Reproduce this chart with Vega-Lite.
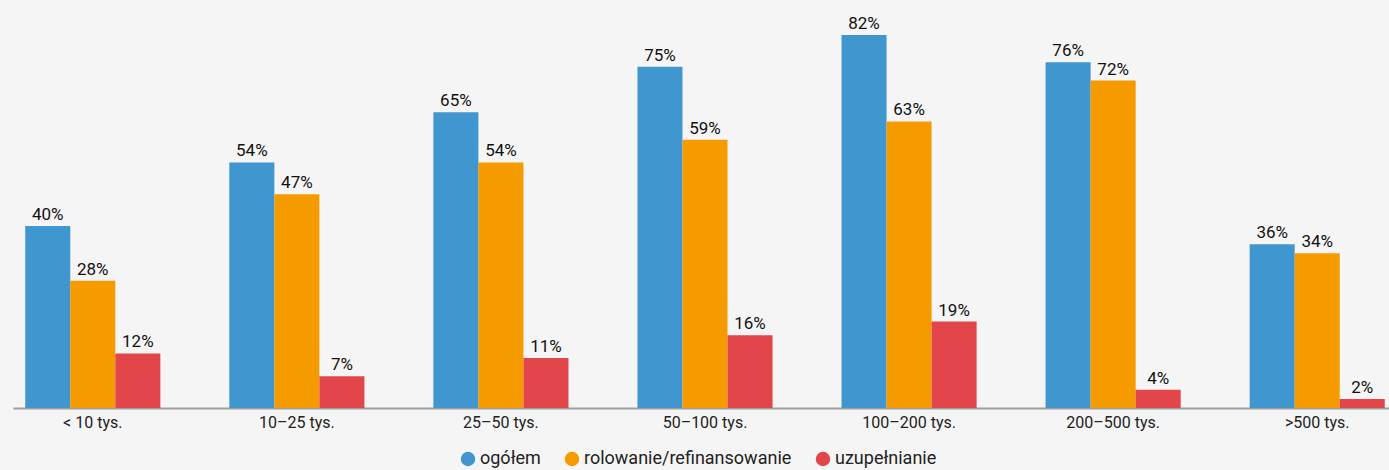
{
  "$schema": "https://vega.github.io/schema/vega-lite/v6.json",
  "autosize": "none",
  "width": 1384,
  "height": 408,
  "padding": {"left": 13, "top": 0, "right": 0, "bottom": 62},
  "background": "#f5f5f5",
  "config": {
    "view": {"stroke": null},
    "font": "Roboto",
    "axis": {"grid": false}
  },
  "data": {
    "values": [
      {"grupa": "< 10 tys.", "seria": "ogółem", "v": 40},
      {"grupa": "< 10 tys.", "seria": "rolowanie/refinansowanie", "v": 28},
      {"grupa": "< 10 tys.", "seria": "uzupełnianie", "v": 12},
      {"grupa": "10–25 tys.", "seria": "ogółem", "v": 54},
      {"grupa": "10–25 tys.", "seria": "rolowanie/refinansowanie", "v": 47},
      {"grupa": "10–25 tys.", "seria": "uzupełnianie", "v": 7},
      {"grupa": "25–50 tys.", "seria": "ogółem", "v": 65},
      {"grupa": "25–50 tys.", "seria": "rolowanie/refinansowanie", "v": 54},
      {"grupa": "25–50 tys.", "seria": "uzupełnianie", "v": 11},
      {"grupa": "50–100 tys.", "seria": "ogółem", "v": 75},
      {"grupa": "50–100 tys.", "seria": "rolowanie/refinansowanie", "v": 59},
      {"grupa": "50–100 tys.", "seria": "uzupełnianie", "v": 16},
      {"grupa": "100–200 tys.", "seria": "ogółem", "v": 82},
      {"grupa": "100–200 tys.", "seria": "rolowanie/refinansowanie", "v": 63},
      {"grupa": "100–200 tys.", "seria": "uzupełnianie", "v": 19},
      {"grupa": "200–500 tys.", "seria": "ogółem", "v": 76},
      {"grupa": "200–500 tys.", "seria": "rolowanie/refinansowanie", "v": 72},
      {"grupa": "200–500 tys.", "seria": "uzupełnianie", "v": 4},
      {"grupa": ">500 tys.", "seria": "ogółem", "v": 36},
      {"grupa": ">500 tys.", "seria": "rolowanie/refinansowanie", "v": 34},
      {"grupa": ">500 tys.", "seria": "uzupełnianie", "v": 2}
    ]
  },
  "encoding": {
    "x": {
      "field": "grupa", "type": "nominal", "sort": null, "title": null,
      "scale": {"paddingInner": 0.338, "paddingOuter": 0.06},
      "axis": {
        "labelAngle": 0, "ticks": false, "domainColor": "#a0a0a0", "domainWidth": 2,
        "labelFontSize": 16, "labelColor": "#222222", "labelPadding": 6, "labelFont": "Roboto"
      }
    },
    "xOffset": {
      "field": "seria", "type": "nominal", "sort": null,
      "scale": {"paddingInner": 0, "paddingOuter": 0}
    },
    "y": {
      "field": "v", "type": "quantitative", "title": null,
      "scale": {"domain": [0, 89.7], "nice": false},
      "axis": null
    }
  },
  "layer": [
    {
      "mark": {"type": "bar"},
      "encoding": {
        "color": {
          "field": "seria", "type": "nominal", "sort": null,
          "scale": {
            "domain": ["ogółem", "rolowanie/refinansowanie", "uzupełnianie"],
            "range": ["#4096cf", "#f59b00", "#e2464a"]
          },
          "legend": {
            "title": null, "orient": "none", "direction": "horizontal",
            "legendX": 446, "legendY": 450,
            "symbolType": "circle", "symbolSize": 210, "symbolOpacity": 1,
            "labelFontSize": 18, "labelColor": "#222222", "labelFont": "Roboto",
            "labelOffset": 3, "columnPadding": 22, "labelLimit": 400
          }
        }
      }
    },
    {
      "transform": [{"calculate": "datum.v + '%'", "as": "etykieta"}],
      "mark": {"type": "text", "baseline": "alphabetic", "dy": -6, "fontSize": 17, "color": "#111111", "font": "Roboto"},
      "encoding": {
        "text": {"field": "etykieta", "type": "nominal"},
        "detail": {"field": "seria"}
      }
    }
  ]
}
